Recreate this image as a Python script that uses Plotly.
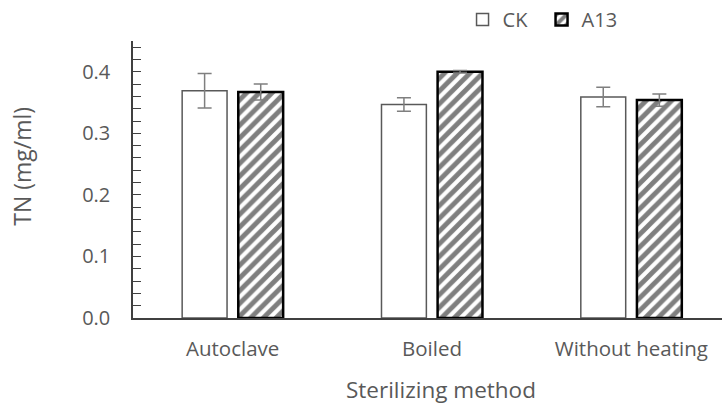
import plotly.graph_objects as go

# Total nitrogen by sterilizing method
methods = ["Autoclave", "Boiled", "Without heating"]
ck_values = [0.369, 0.347, 0.359]
ck_errors = [0.028, 0.011, 0.016]
a13_values = [0.367, 0.400, 0.354]
a13_errors = [0.013, 0.002, 0.010]

font_family = "Open Sans, Noto Sans, sans-serif"
text_grey = "#595959"

fig = go.Figure()

fig.add_trace(go.Bar(
    name="CK",
    x=methods,
    y=ck_values,
    marker=dict(color="white", line=dict(color="#595959", width=1.5)),
    error_y=dict(type="data", array=ck_errors, color="#7f7f7f",
                 thickness=1.5, width=7),
))

fig.add_trace(go.Bar(
    name="A13",
    x=methods,
    y=a13_values,
    marker=dict(
        color="white",
        line=dict(color="black", width=2.5),
        pattern=dict(shape="/", fgcolor="black", bgcolor="white",
                     size=9, solidity=0.55),
    ),
    error_y=dict(type="data", array=a13_errors, color="#7f7f7f",
                 thickness=1.5, width=7),
))

fig.update_layout(
    width=722,
    height=405,
    margin=dict(l=133, r=0, t=40, b=87),
    paper_bgcolor="white",
    plot_bgcolor="white",
    barmode="group",
    bargap=0.437,
    bargroupgap=0.2,
    font=dict(family=font_family, color=text_grey, size=20),
    showlegend=True,
    legend=dict(
        orientation="h",
        x=0.5595,
        xanchor="left",
        y=1.076,
        yanchor="middle",
        font=dict(size=20, color=text_grey),
        bgcolor="rgba(0,0,0,0)",
        itemwidth=30,
        entrywidth=34,
    ),
    xaxis=dict(
        range=[-0.5, 2.455],
        showline=True,
        linecolor="#404040",
        linewidth=1.5,
        ticks="",
        ticklabelstandoff=12,
        tickfont=dict(size=20.5, color=text_grey),
        showgrid=False,
        zeroline=False,
    ),
    yaxis=dict(
        range=[0, 0.45],
        dtick=0.1,
        tickformat=".1f",
        showline=True,
        linecolor="#404040",
        linewidth=1.5,
        ticks="inside",
        ticklen=8,
        tickcolor="#404040",
        tickwidth=1.2,
        minor=dict(dtick=0.02, ticks="inside", ticklen=8,
                   tickcolor="#404040", tickwidth=1.2),
        ticklabelstandoff=17,
        tickfont=dict(size=20, color=text_grey),
        showgrid=False,
        zeroline=False,
    ),
    annotations=[
        dict(text="Sterilizing method", xref="paper", yref="paper",
             x=0.523, y=-0.259, xanchor="center", yanchor="middle",
             showarrow=False, font=dict(size=22.5, color=text_grey)),
        dict(text="TN (mg/ml)", xref="paper", yref="paper",
             x=-0.188, y=0.547, xanchor="center", yanchor="middle",
             textangle=-90, showarrow=False,
             font=dict(size=23, color=text_grey)),
    ],
)

fig.write_html("out.html")
